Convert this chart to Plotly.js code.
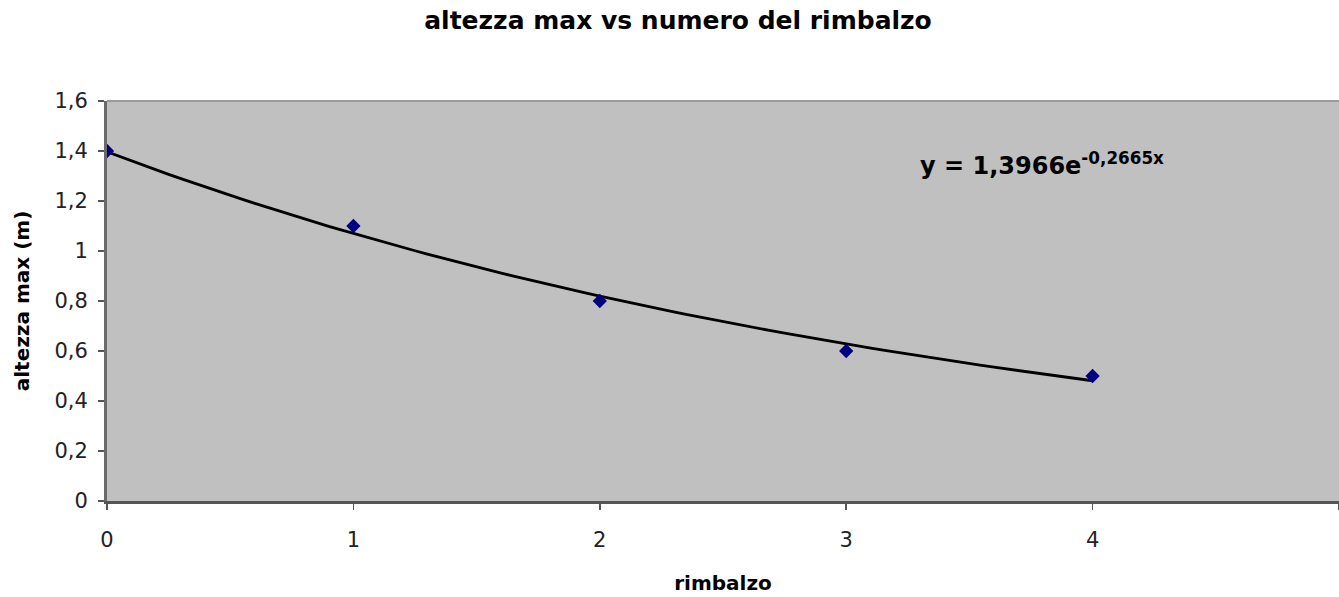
<!DOCTYPE html>
<html><head><meta charset="utf-8">
<script src="https://cdn.plot.ly/plotly-3.0.1.min.js"></script>
<style>html,body{margin:0;padding:0;background:#fff;}#chart{width:1339px;height:597px;}</style>
</head><body><div id="chart"></div>
<script>
// Data
const bounces = [0, 1, 2, 3, 4];
const heights = [1.4, 1.1, 0.8, 0.6, 0.5];
// Exponential trendline coefficients as printed on the chart
const trendA = 1.3966;
const trendB = -0.2665;
const trendLabel = "y = 1,3966e<sup>-0,2665x</sup>";
const xTickVals = [0, 1, 2, 3, 4, 5];

const tx = [], ty = [];
for (let i = 0; i <= 80; i++) { const x = 4 * i / 80; tx.push(x); ty.push(trendA * Math.exp(trendB * x)); }

const font = "DejaVu Sans, Verdana, sans-serif";
const data = [
  {x: tx, y: ty, mode: 'lines', line: {color: '#000000', width: 2.8}, hoverinfo: 'skip', showlegend: false},
  {x: bounces, y: heights, mode: 'markers', marker: {symbol: 'diamond', size: 11, color: '#000080'}, showlegend: false}
];
const layout = {
  width: 1339, height: 597,
  margin: {l: 107, r: 0, t: 101, b: 96},
  paper_bgcolor: '#ffffff', plot_bgcolor: '#c0c0c0',
  separators: ',.',
  font: {family: font, color: '#000'},
  title: {text: '<b>altezza max vs numero del rimbalzo</b>', font: {size: 25, family: font, color: '#000'},
          x: 678/1339, xanchor: 'center', y: 1 - 20/597, yanchor: 'middle', xref: 'container', yref: 'container'},
  xaxis: {range: [0, 5], tickvals: xTickVals, ticks: 'outside', ticklen: 6, tickcolor: '#555', tickwidth: 1.5,
          showline: true, linecolor: '#555', linewidth: 2.5, showgrid: false, zeroline: false,
          tickfont: {size: 21, family: font, color: '#222'}, ticklabelstandoff: 12,
          title: {text: '<b>rimbalzo</b>', font: {size: 20, family: font}, standoff: 26}},
  yaxis: {range: [0, 1.6], dtick: 0.2, tick0: 0, ticks: 'outside', ticklen: 6, tickcolor: '#555', tickwidth: 1.5,
          showline: true, linecolor: '#6a6a6a', linewidth: 3, showgrid: false, zeroline: false,
          tickfont: {size: 21, family: font, color: '#222'}, ticklabelstandoff: 6,
          title: {text: '<b>altezza max (m)</b>', font: {size: 20, family: font}, standoff: 20}},
  shapes: [{type: 'line', xref: 'paper', yref: 'paper', x0: 0, x1: 1, y0: 1, y1: 1, line: {color: '#9a9a9a', width: 2}}],
  annotations: [{text: '<b>' + trendLabel + '</b>', x: 3.29, y: 1.35, xref: 'x', yref: 'y', xanchor: 'left', yanchor: 'middle',
                 showarrow: false, font: {size: 24, family: font, color: '#000'}}]
};
Plotly.newPlot('chart', data, layout, {displayModeBar: false, staticPlot: true});
</script></body></html>
